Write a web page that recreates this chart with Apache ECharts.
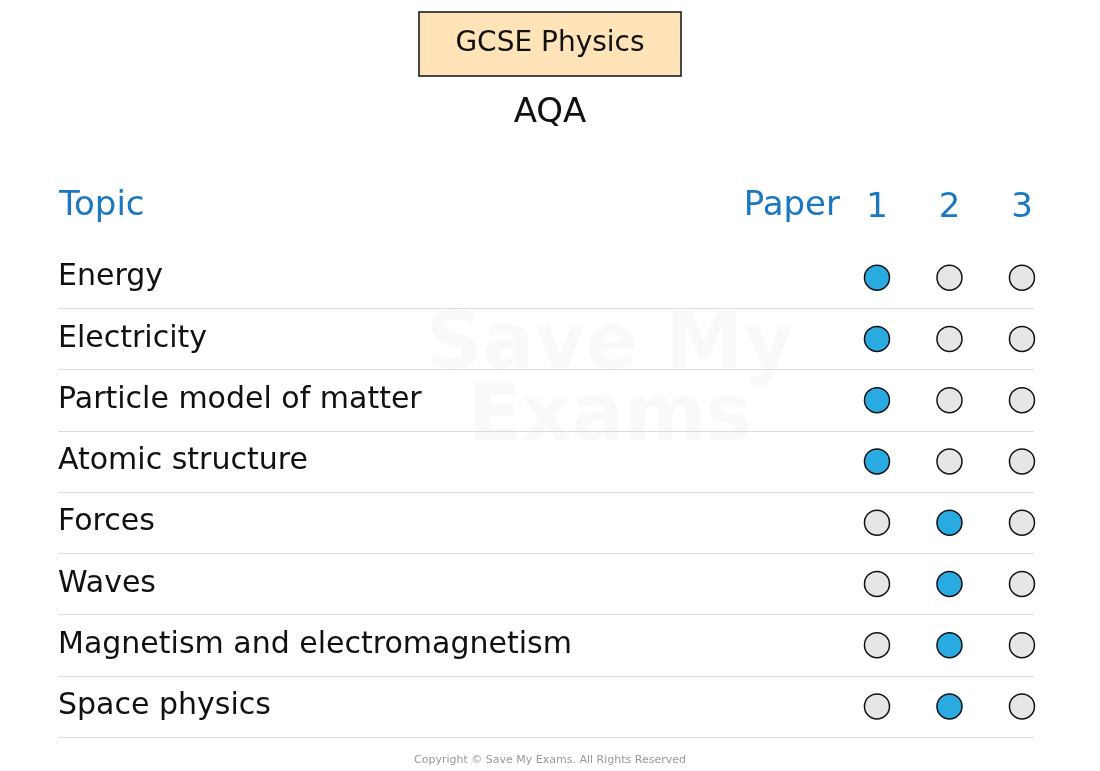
<!DOCTYPE html>
<html><head><meta charset="utf-8">
<script src="https://cdn.jsdelivr.net/npm/echarts@6/dist/echarts.min.js"></script>
<style>html,body{margin:0;padding:0;background:#fff}#c{width:1100px;height:771px}</style>
</head><body><div id="c"></div>
<script>
const topics = ["Energy","Electricity","Particle model of matter","Atomic structure","Forces","Waves","Magnetism and electromagnetism","Space physics"];
const papers = [1,2,3];
const topicPaper = [1,1,1,1,2,2,2,2];

const FONT = "DejaVu Sans";
const BLUE_TXT = "#1a78c2";
const data = [];
topics.forEach((t,i)=>{
  papers.forEach(p=>{
    const on = topicPaper[i]===p;
    data.push({value:[p,t], itemStyle:{color: on ? "#29abe2" : "#e6e6e6"}});
  });
});

const chart = echarts.init(document.getElementById('c'));
chart.setOption({
  animation:false,
  grid:{left:58,right:66,top:247,bottom:34},
  xAxis:{type:'value',min:-10.297,max:3.166,position:'top',
    axisLine:{show:false},axisTick:{show:false},splitLine:{show:false},
    axisLabel:{customValues:papers,margin:22,fontFamily:FONT,fontSize:34,color:BLUE_TXT,formatter:v=>String(v)}},
  yAxis:{type:'category',data:topics,inverse:true,
    axisLine:{show:false},axisTick:{show:false},
    splitLine:{show:true,interval:(i)=>i>0,lineStyle:{color:'#dcdcdc',width:1}},
    axisLabel:{inside:true,align:'left',margin:0,fontFamily:FONT,fontSize:30,color:'#111'}},
  series:[{type:'scatter',data:data,symbolSize:25,
    itemStyle:{borderColor:'#111',borderWidth:1.5,opacity:1}}],
  graphic:[
    {type:'rect',shape:{x:419,y:12,width:262,height:64},style:{fill:'#fee4b8',stroke:'#111',lineWidth:1.5}},
    {type:'text',x:550,y:44,style:{text:'GCSE Physics',font:'28px '+FONT,fill:'#111',align:'center',verticalAlign:'middle'}},
    {type:'text',x:550,y:113,style:{text:'AQA',font:'34px '+FONT,fill:'#111',align:'center',verticalAlign:'middle'}},
    {type:'text',x:59,y:206,style:{text:'Topic',font:'34px '+FONT,fill:BLUE_TXT,verticalAlign:'middle'}},
    {type:'text',x:840,y:206,style:{text:'Paper',font:'34px '+FONT,fill:BLUE_TXT,align:'right',verticalAlign:'middle'}},
    {type:'text',x:610,y:384,z:-1,style:{text:'Save My\nExams',font:'bold 78px '+FONT,fill:'rgba(0,0,0,0.025)',align:'center',verticalAlign:'middle',lineHeight:72}},
    {type:'text',x:550,y:760,style:{text:'Copyright © Save My Exams. All Rights Reserved',font:'11px '+FONT,fill:'#999',align:'center',verticalAlign:'middle'}}
  ]
});
</script></body></html>
